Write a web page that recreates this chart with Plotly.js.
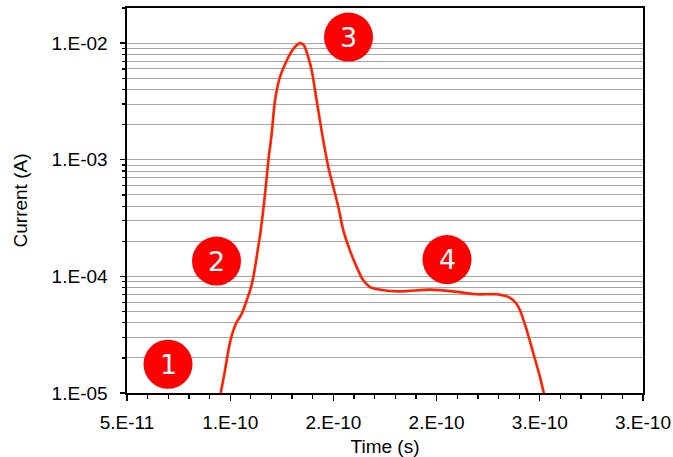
<!DOCTYPE html>
<html>
<head>
<meta charset="utf-8">
<script src="https://cdn.plot.ly/plotly-3.0.1.min.js"></script>
<style>html,body{margin:0;padding:0;background:#fff;}#chart{width:673px;height:457px;}</style>
</head>
<body>
<div id="chart"></div>
<script>
// Time (s)
var timeS = [9.54e-11, 9.75e-11, 9.99e-11, 10.28e-11, 10.56e-11, 10.80e-11, 10.99e-11, 11.15e-11, 11.28e-11, 11.48e-11,
  11.69e-11, 11.85e-11, 12.01e-11, 12.17e-11, 12.41e-11, 12.74e-11, 13.06e-11, 13.38e-11, 13.58e-11, 13.78e-11, 13.95e-11,
  14.19e-11, 14.51e-11, 14.79e-11, 15.00e-11, 15.24e-11, 15.48e-11, 15.80e-11, 16.13e-11, 16.45e-11, 16.77e-11,
  17.26e-11, 18.23e-11, 19.68e-11, 20.79e-11, 21.94e-11, 22.91e-11, 23.56e-11, 23.85e-11, 24.04e-11, 24.37e-11,
  24.69e-11, 25.01e-11, 25.20e-11];
// Current (A)
var currentA = [1.0e-5, 1.57e-5, 2.72e-5, 3.94e-5, 4.79e-5, 6.22e-5, 7.85e-5, 1.05e-4, 1.46e-4, 2.48e-4,
  5.12e-4, 9.86e-4, 1.67e-3, 3.22e-3, 5.11e-3, 7.10e-3, 8.93e-3, 1.0e-2, 9.53e-3, 7.57e-3, 5.82e-3,
  3.22e-3, 1.46e-3, 8.09e-4, 5.82e-4, 3.93e-4, 2.48e-4, 1.67e-4, 1.20e-4, 9.24e-5, 8.09e-5,
  7.69e-5, 7.44e-5, 7.69e-5, 7.44e-5, 7.02e-5, 7.02e-5, 6.55e-5, 5.88e-5, 5.12e-5, 3.44e-5,
  2.18e-5, 1.37e-5, 0.99e-5];

var xTickVals = [5e-11, 1e-10, 1.5e-10, 2e-10, 2.5e-10, 3e-10];
var xTickText = ["5.E-11", "1.E-10", "2.E-10", "2.E-10", "3.E-10", "3.E-10"];
var yTickVals = [1e-5, 1e-4, 1e-3, 1e-2];
var yTickText = ["1.E-05", "1.E-04", "1.E-03", "1.E-02"];
var stageLabels = ["1", "2", "3", "4"];

var font = "'Liberation Sans', Arial, sans-serif";

var trace = {
  x: timeS, y: currentA, type: 'scatter', mode: 'lines',
  line: {color: '#ff2200', width: 2.6, shape: 'spline', smoothing: 0.8},
  hoverinfo: 'skip'
};

// marker positions in paper coords
var circlePos = [[0.0795, 0.0747], [0.1735, 0.3428], [0.4293, 0.9245], [0.6202, 0.3467]];
var shapes = [], annotations = [];
for (var i = 0; i < stageLabels.length; i++) {
  var p = circlePos[i];
  shapes.push({type: 'circle', xref: 'paper', yref: 'paper', xsizemode: 'pixel', ysizemode: 'pixel',
    xanchor: p[0], yanchor: p[1], x0: -24.5, x1: 24.5, y0: -24.5, y1: 24.5,
    fillcolor: '#ff0000', line: {width: 0}, layer: 'above'});
  annotations.push({xref: 'paper', yref: 'paper', x: p[0], y: p[1], text: stageLabels[i], showarrow: false,
    font: {family: "'DejaVu Sans', sans-serif", size: 27, color: '#ffffff'}, xanchor: 'center', yanchor: 'middle'});
}

var layout = {
  width: 673, height: 457,
  margin: {l: 127, r: 30, t: 8, b: 64},
  paper_bgcolor: '#ffffff', plot_bgcolor: '#ffffff',
  showlegend: false,
  font: {family: font, size: 19, color: '#000000'},
  xaxis: {
    range: [5e-11, 3e-10],
    tickmode: 'array', tickvals: xTickVals, ticktext: xTickText,
    ticks: 'outside', ticklen: 6, tickwidth: 1.3, tickcolor: '#000',
    showline: true, linecolor: '#000', linewidth: 1.6, mirror: true,
    showgrid: false, zeroline: false,
    minor: {dtick: 1e-11, ticks: 'outside', ticklen: 4, tickwidth: 1.3, tickcolor: '#000', showgrid: false},
    tickfont: {family: font, size: 19, color: '#000'},
    ticklabelstandoff: 6,
    title: {text: 'Time (s)', font: {family: font, size: 19, color: '#000'}, standoff: 8}
  },
  yaxis: {
    type: 'log',
    range: [-5, Math.log10(0.02)],
    tickmode: 'array', tickvals: yTickVals, ticktext: yTickText,
    ticks: 'outside', ticklen: 5, tickwidth: 1.3, tickcolor: '#000',
    showline: true, linecolor: '#000', linewidth: 1.6, mirror: true,
    showgrid: true, gridcolor: '#a6a6a6', gridwidth: 1,
    zeroline: false,
    minor: {dtick: 'D1', ticks: 'outside', ticklen: 3, tickwidth: 1.3, tickcolor: '#000', showgrid: true, gridcolor: '#a6a6a6', gridwidth: 1},
    tickfont: {family: font, size: 19, color: '#000'},
    ticklabelstandoff: 9,
    title: {text: 'Current (A)', font: {family: font, size: 19, color: '#000'}, standoff: 19}
  },
  shapes: shapes,
  annotations: annotations
};

Plotly.newPlot('chart', [trace], layout, {staticPlot: true, displayModeBar: false});
</script>
</body>
</html>
